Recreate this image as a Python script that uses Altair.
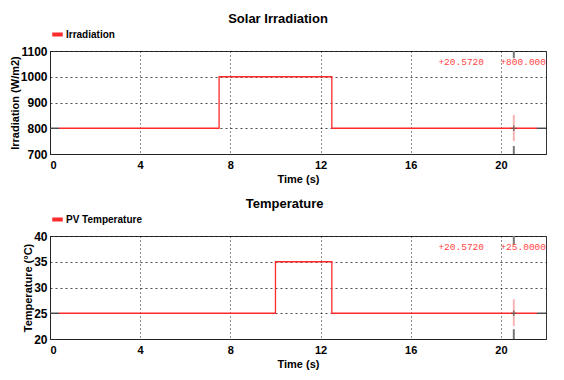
import altair as alt
import pandas as pd

# ---- data ----
irr_t = [0.4, 7.5, 7.5, 12.5, 12.5, 21.6]
irr_v = [800, 800, 1000, 1000, 800, 800]
temp_t = [0.4, 10.0, 10.0, 12.5, 12.5, 21.6]
temp_v = [25, 25, 35, 35, 25, 25]

x_ticks = [0, 4, 8, 12, 16, 20]
irr_ticks = [700, 800, 900, 1000, 1100]
temp_ticks = [20, 25, 30, 35, 40]

cursor_t = 20.572
cursor_label = "+20.5720"
irr_cursor_val = 800
irr_cursor_label = "+800.000"
temp_cursor_val = 25
temp_cursor_label = "+25.0000"

# cursor segments (value ranges along the cursor line)
irr_gray_segs = [(1100, 1072), (731, 700)]
irr_pink_seg = (852, 750)
temp_gray_segs = [(40, 38.3), (21.9, 20)]
temp_pink_seg = (27.7, 22.5)

FONT = "Liberation Sans"


def panel(title, series, t, v, ydom, yticks, ytitle, cval, clabel, vlabel, gsegs, pseg):
    df = pd.DataFrame({"t": t, "v": v, "i": list(range(len(t))), "series": series})
    xscale = alt.Scale(domain=[0, 22], nice=False, zero=False)
    yscale = alt.Scale(domain=ydom, nice=False, zero=False)
    xaxis = alt.Axis(values=x_ticks, title="Time (s)", grid=True,
                     gridDash=[1, 3], gridColor="#000", gridOpacity=0.9,
                     ticks=False, labelPadding=5, domainColor="#222",
                     labelOverlap=False)
    yaxis = alt.Axis(values=yticks, title=ytitle, grid=True, format="d",
                     gridDash=[2, 3], gridColor="#000", gridOpacity=0.7,
                     ticks=False, labelPadding=3, domainColor="#222",
                     labelOverlap=False, labelFontSize=12, titlePadding=0)

    def X(f):
        return alt.X(f, scale=xscale, axis=xaxis, title="Time (s)")

    def Y(f):
        return alt.Y(f, scale=yscale, axis=yaxis, title=ytitle)

    line = alt.Chart(df).mark_line(strokeWidth=1.3, interpolate="linear").encode(
        x=X("t:Q"), y=Y("v:Q"), order="i:Q",
        color=alt.Color("series:N", scale=alt.Scale(range=["#ff2a2a"]),
                        legend=alt.Legend(orient="top", title=None, symbolType="stroke",
                                          symbolStrokeWidth=4, symbolSize=110,
                                          symbolStrokeColor="#ff0000",
                                          labelFont=FONT, labelFontWeight="bold",
                                          labelFontSize=10, labelColor="#000",
                                          offset=8, padding=0, symbolOffset=0,
                                          labelOffset=1)),
    )
    base = v[0]
    stub_df = pd.DataFrame({"t": [0, t[-1]], "b": [t[0], 22], "v": [base, base]})
    stubs = alt.Chart(stub_df).mark_rule(color="#444", strokeWidth=1.4).encode(
        x=X("t:Q"), x2="b:Q", y=Y("v:Q"))

    g_df = pd.DataFrame({"t": [cursor_t] * len(gsegs),
                         "v": [s[0] for s in gsegs], "y2": [s[1] for s in gsegs]})
    gray = alt.Chart(g_df).mark_rule(color="#777", strokeWidth=2).encode(
        x=X("t:Q"), y=Y("v:Q"), y2="y2:Q")
    p_df = pd.DataFrame({"t": [cursor_t], "v": [pseg[0]], "y2": [pseg[1]]})
    pink = alt.Chart(p_df).mark_rule(color="#f7b5b5", strokeWidth=2).encode(
        x=X("t:Q"), y=Y("v:Q"), y2="y2:Q")
    c_df = pd.DataFrame({"t": [cursor_t], "v": [cval]})
    cross = alt.Chart(c_df).mark_point(shape="M-1,0L1,0M0,-1L0,1", size=30,
                                       color="#333", strokeWidth=1.2).encode(
        x=X("t:Q"), y=Y("v:Q"))

    lab_df = pd.DataFrame({"t": [19.25, 22.0], "txt": [clabel, vlabel]})
    labels = alt.Chart(lab_df).mark_text(font="Liberation Mono", fontSize=9.5,
                                         color="#ff4545", align="right",
                                         baseline="middle").encode(
        x=X("t:Q"), y=alt.value(11), text="txt:N")

    return alt.layer(stubs, line, gray, pink, cross, labels).properties(
        width=496, height=103,
        title=alt.TitleParams(title, font=FONT, fontSize=13, fontWeight="bold",
                              anchor="middle", frame="bounds", offset=1, color="#000"),
    )


top = panel("Solar Irradiation", "Irradiation", irr_t, irr_v, [700, 1100], irr_ticks,
            "Irradiation (W/m2)", irr_cursor_val, cursor_label, irr_cursor_label,
            irr_gray_segs, irr_pink_seg)
bot = panel("Temperature", "PV Temperature", temp_t, temp_v, [20, 40], temp_ticks,
            "Temperature (°C)", temp_cursor_val, cursor_label, temp_cursor_label,
            temp_gray_segs, temp_pink_seg)

chart = alt.vconcat(top, bot, spacing=12).resolve_scale(color="independent").configure_view(
    stroke="#333", strokeWidth=1
).configure_axis(
    labelFont=FONT, labelFontSize=11, labelFontWeight="bold", labelColor="#000",
    titleFont=FONT, titleFontSize=11, titleFontWeight="bold", titleColor="#000",
    titlePadding=3, labelOverlap=False,
).properties(background="#ffffff", padding={"left": 0, "top": 4, "right": 5, "bottom": 5})

chart.save("out.html", embed_options={"renderer": "svg", "actions": False})
